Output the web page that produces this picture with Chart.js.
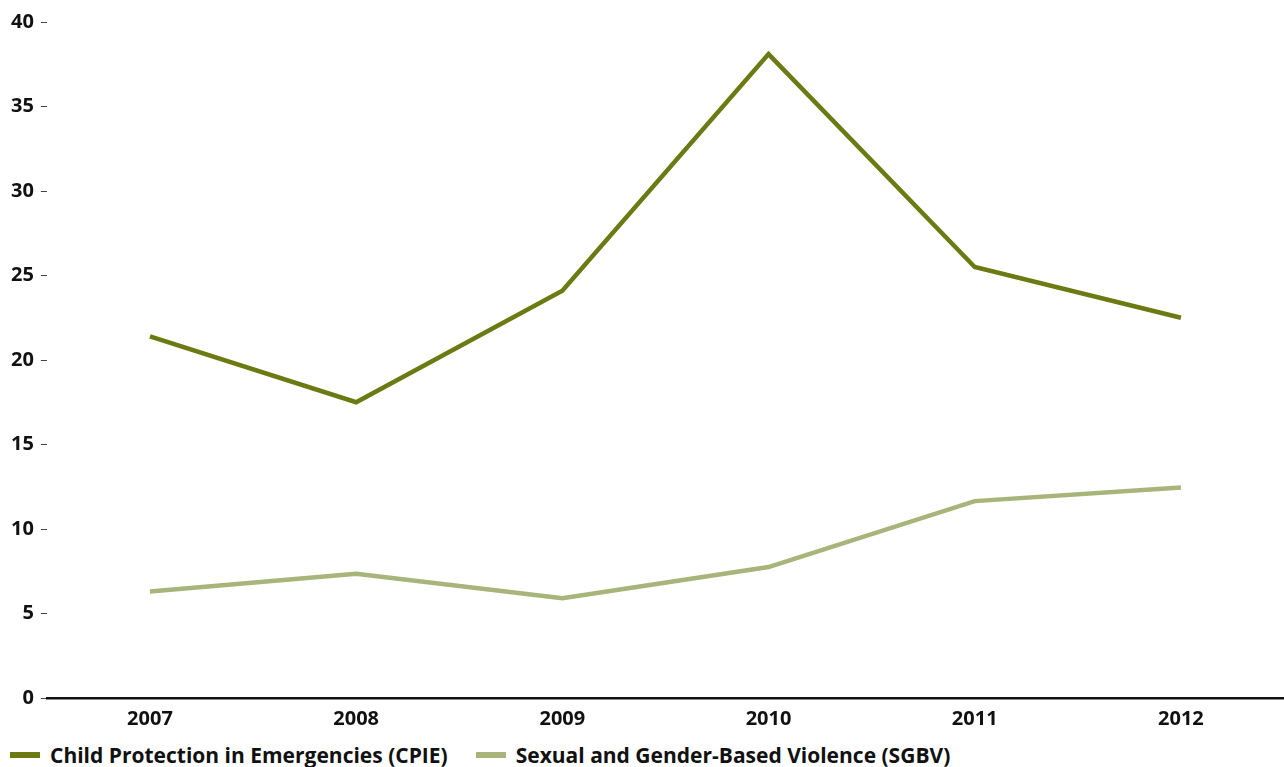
<!DOCTYPE html>
<html>
<head>
<meta charset="utf-8">
<script src="https://cdn.jsdelivr.net/npm/chart.js@4/dist/chart.umd.min.js"></script>
<style>
  html,body{margin:0;padding:0;background:#fff;overflow:hidden;}
  #wrap{width:1284px;height:740px;position:relative;}
  #legend{position:absolute;left:10px;top:743px;display:flex;
    font-family:'Open Sans',Lato,sans-serif;font-weight:bold;font-size:21px;color:#111;line-height:24px;}
  #legend .item{display:flex;align-items:center;margin-right:28px;}
  #legend .box{width:30px;height:6px;margin-right:10px;}
</style>
</head>
<body>
<div id="wrap"><canvas id="chart"></canvas></div>
<div id="legend"></div>
<script>
const years = ["2007","2008","2009","2010","2011","2012"];
const cpie = [21.4, 17.5, 24.1, 38.1, 25.5, 22.5];
const sgbv = [6.3, 7.35, 5.9, 7.75, 11.65, 12.45];
const yTicks = [0,5,10,15,20,25,30,35,40];

const font = "'Open Sans', Lato, sans-serif";

const chart = new Chart(document.getElementById("chart"),{
  type:"line",
  data:{
    labels:years,
    datasets:[
      {label:"Child Protection in Emergencies (CPIE)", data:cpie,
       borderColor:"#6b7a12", backgroundColor:"#6b7a12", borderWidth:4.5,
       pointRadius:0, tension:0},
      {label:"Sexual and Gender-Based Violence (SGBV)", data:sgbv,
       borderColor:"#a8b47a", backgroundColor:"#a8b47a", borderWidth:4.5,
       pointRadius:0, tension:0}
    ]
  },
  options:{
    responsive:true,
    maintainAspectRatio:false,
    animation:false,
    layout:{padding:{top:22,right:0,left:4,bottom:0}},
    plugins:{
      tooltip:{enabled:false},
      legend:{display:false}
    },
    scales:{
      x:{
        offset:true,
        grid:{display:false, drawTicks:false},
        border:{display:true, color:"#111", width:2.5},
        ticks:{color:"#111", padding:9, font:{family:font, size:20, weight:"bold"}}
      },
      y:{
        min:0, max:40,
        afterBuildTicks:axis=>{axis.ticks = yTicks.map(v=>({value:v}));},
        grid:{drawOnChartArea:false, drawTicks:true, tickLength:6, color:"#444"},
        border:{display:false},
        ticks:{color:"#111", padding:7, font:{family:font, size:20, weight:"bold"}}
      }
    }
  }
});

// legend below the canvas, built from the datasets
const legend = document.getElementById("legend");
chart.data.datasets.forEach(ds=>{
  legend.innerHTML += `<div class="item"><span class="box" style="background:${ds.borderColor}"></span>${ds.label}</div>`;
});
</script>
</body>
</html>
